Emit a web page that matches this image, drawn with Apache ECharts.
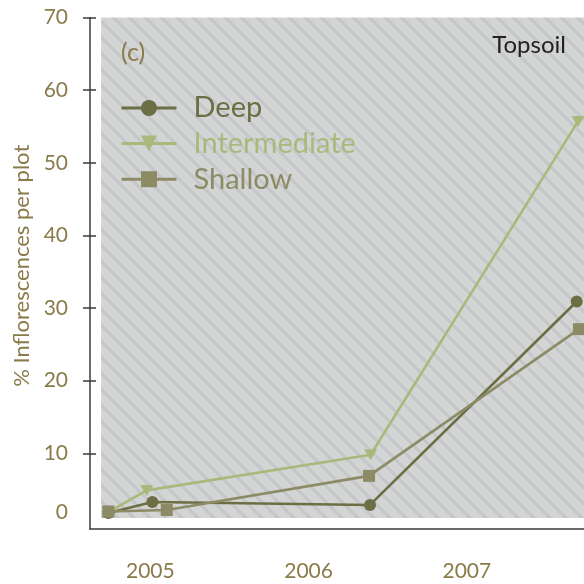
<!DOCTYPE html>
<html>
<head>
<meta charset="utf-8">
<script src="https://cdn.jsdelivr.net/npm/echarts@6/dist/echarts.min.js"></script>
<style>
  html, body { margin: 0; padding: 0; background: #ffffff; }
  #chart { width: 584px; height: 584px; }
</style>
</head>
<body>
<div id="chart"></div>
<script>
// Year labels on the time axis and value ticks on the y axis
const yearLabels = [2005, 2006, 2007];
const yTickValues = [10, 20, 30, 40, 50, 60, 70];

// Sampling dates (fractional years) and % inflorescences per plot
const deepDates = [2004.735, 2005.013, 2006.388, 2007.694];
const deepValues = [1.8, 3.3, 2.9, 30.9];
const intermediateDates = [2004.735, 2004.977, 2006.392, 2007.702];
const intermediateValues = [1.9, 4.9, 9.8, 55.7];
const shallowDates = [2004.735, 2005.104, 2006.382, 2007.708];
const shallowValues = [2.0, 2.2, 6.9, 27.1];

const COLORS = { deep: '#6c6e44', intermediate: '#abb87c', shallow: '#8c8b66' };
const LABEL_COLOR = '#8a7b4b';
const FONT = 'Lato, "Open Sans", sans-serif';

// The zero label sits at the baseline of the first samples
const ZERO_LABEL_AT = 1.9;

function pairs(xs, ys) { return xs.map((x, i) => [x, ys[i]]); }

// Diagonal hatch used for the plot background
function hatch() {
  const s = 16;
  const c = document.createElement('canvas');
  c.width = s; c.height = s;
  const g = c.getContext('2d');
  g.fillStyle = '#d3d4d4';
  g.fillRect(0, 0, s, s);
  g.strokeStyle = '#c5c6c9';
  g.lineWidth = 3;
  g.beginPath();
  for (let k = -1; k <= 1; k++) {
    g.moveTo(-2, k * s - 2);
    g.lineTo(s + 2, s + k * s + 2);
  }
  g.stroke();
  return c;
}

const X_MIN = 2004.619, X_MAX = 2007.74;
const Y_MIN = -0.413, Y_MAX = 70;

const axisLineStyle = { color: '#3b3b3b', width: 1.5 };

const chart = echarts.init(document.getElementById('chart'), null, { renderer: 'canvas' });

function lineSeries(name, xs, ys, color, symbol, size, rotate) {
  return {
    name: name,
    type: 'line',
    data: pairs(xs, ys),
    symbol: symbol,
    symbolSize: size,
    symbolRotate: rotate || 0,
    showSymbol: true,
    z: 5,
    lineStyle: { color: color, width: 2.6 },
    itemStyle: { color: color, opacity: 1 },
    emphasis: { disabled: true },
    animation: false
  };
}

chart.setOption({
  animation: false,
  grid: { left: 90, right: 0, top: 17.5, bottom: 55 },
  xAxis: {
    type: 'value',
    min: X_MIN,
    max: X_MAX,
    splitLine: { show: false },
    axisTick: { show: false },
    axisLine: { show: true, onZero: false, lineStyle: axisLineStyle },
    axisLabel: {
      customValues: yearLabels,
      formatter: v => String(Math.round(v)),
      color: LABEL_COLOR,
      fontFamily: FONT,
      fontSize: 21,
      margin: 32
    }
  },
  yAxis: [
    {
      type: 'value',
      min: Y_MIN,
      max: Y_MAX,
      position: 'left',
      splitLine: { show: false },
      axisLine: { show: true, onZero: false, lineStyle: axisLineStyle },
      axisTick: { show: true, customValues: yTickValues, length: 7, lineStyle: axisLineStyle },
      axisLabel: {
        customValues: [ZERO_LABEL_AT].concat(yTickValues),
        formatter: v => (v < 5 ? '0' : String(v)),
        color: LABEL_COLOR,
        fontFamily: FONT,
        fontSize: 21,
        margin: 22
      },
      name: '% Inflorescences per plot',
      nameLocation: 'middle',
      nameRotate: 90,
      nameGap: 57,
      nameTextStyle: { color: LABEL_COLOR, fontFamily: FONT, fontSize: 22, padding: [0, 0, 0, 15] }
    },
    {
      type: 'value',
      min: Y_MIN,
      max: Y_MAX,
      position: 'left',
      splitLine: { show: false },
      axisLine: { show: false },
      axisLabel: { show: false },
      axisTick: { show: true, inside: true, customValues: yTickValues, length: 6, lineStyle: axisLineStyle }
    }
  ],
  legend: {
    orient: 'vertical',
    left: 120,
    top: 93.5,
    padding: 0,
    itemWidth: 55,
    itemHeight: 20,
    itemGap: 6.6,
    selectedMode: false,
    lineStyle: { width: 3 },
    textStyle: { fontFamily: FONT, fontSize: 29, padding: [0, 0, 0, 12] },
    data: [
      { name: 'Deep', textStyle: { color: COLORS.deep } },
      { name: 'Intermediate', textStyle: { color: COLORS.intermediate } },
      { name: 'Shallow', textStyle: { color: COLORS.shallow } }
    ]
  },
  graphic: [
    {
      type: 'text', left: 121, top: 40, z: 10,
      style: { text: '(c)', fill: LABEL_COLOR, fontFamily: FONT, fontSize: 25 }
    },
    {
      type: 'text', right: 18, top: 33, z: 10,
      style: { text: 'Topsoil', fill: '#222222', fontFamily: FONT, fontSize: 24 }
    }
  ],
  series: [
    {
      name: 'background',
      type: 'line',
      data: [],
      z: 1,
      silent: true,
      markArea: {
        silent: true,
        itemStyle: { color: { image: hatch(), repeat: 'repeat' }, borderWidth: 0 },
        data: [[{ coord: [2004.689, 70] }, { coord: [X_MAX, 1.1] }]]
      }
    },
    lineSeries('Deep', deepDates, deepValues, COLORS.deep, 'circle', 12),
    lineSeries('Intermediate', intermediateDates, intermediateValues, COLORS.intermediate, 'triangle', [13, 11], 180),
    lineSeries('Shallow', shallowDates, shallowValues, COLORS.shallow, 'rect', 12)
  ]
});
</script>
</body>
</html>
